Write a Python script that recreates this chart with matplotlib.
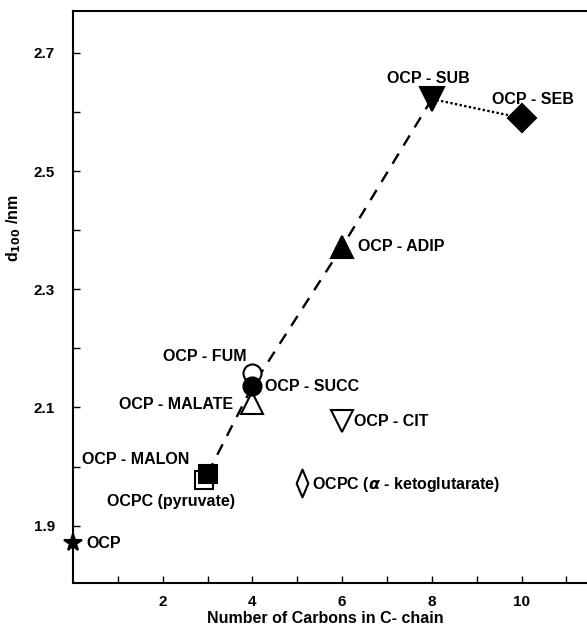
import numpy as np
import matplotlib
matplotlib.use("Agg")
import matplotlib.pyplot as plt
from matplotlib.path import Path

plt.rcParams['font.family'] = ['Liberation Sans', 'DejaVu Sans']
plt.rcParams['font.weight'] = 'bold'

# data
names = ['OCP', 'OCP - MALON', 'OCPC (pyruvate)', 'OCP - MALATE', 'OCP - SUCC', 'OCP - FUM',
         'OCP - ADIP', 'OCP - SUB', 'OCP - SEB', 'OCP - CIT', r'OCPC ($\alpha$ - ketoglutarate)']
carbons = [0, 3, 2.92, 4, 4, 4, 6, 8, 10, 6, 5.1]
d100 = [1.87, 1.988, 1.977, 2.107, 2.136, 2.158, 2.372, 2.622, 2.59, 2.078, 1.972]

dashed_idx = [1, 4, 6, 7]   # MALON -> SUCC -> ADIP -> SUB
dotted_idx = [7, 8]         # SUB -> SEB

thin_diamond = Path([(0, 1), (0.42, 0), (0, -1), (-0.42, 0), (0, 1)],
                    [Path.MOVETO, Path.LINETO, Path.LINETO, Path.LINETO, Path.CLOSEPOLY])

# marker style for each point: (marker, filled, size)
styles = [('*', True, 13), ('s', True, 13), ('s', False, 13), ('^', False, 16), ('o', True, 13),
          ('o', False, 13), ('^', True, 16), ('v', True, 17), ('D', True, 14), ('v', False, 16),
          (thin_diamond, False, 20)]

# label anchors (x, y, ha)
label_pos = [(0.3, 1.869, 'left'), (0.2, 2.012, 'left'), (0.75, 1.941, 'left'),
             (3.57, 2.105, 'right'), (4.27, 2.136, 'left'), (3.88, 2.186, 'right'),
             (6.35, 2.373, 'left'), (7.0, 2.656, 'left'), (9.34, 2.622, 'left'),
             (6.27, 2.077, 'left'), (5.32, 1.969, 'left')]

fig = plt.figure(figsize=(5.87, 6.28), dpi=100)
ax = fig.add_axes([73 / 587, 1 - 583 / 628, 1 - 73 / 587, (583 - 11) / 628])

ax.plot([carbons[i] for i in dashed_idx], [d100[i] for i in dashed_idx],
        ls=(0, (5, 4)), color='black', lw=1.7, zorder=1)
ax.plot([carbons[i] for i in dotted_idx], [d100[i] for i in dotted_idx],
        ls=(0, (1, 1)), color='black', lw=1.7, zorder=1)

for x, y, (m, filled, s) in zip(carbons, d100, styles):
    ax.plot(x, y, marker=m, ms=s, mec='black', mew=1.5,
            mfc='black' if filled else 'white', ls='none',
            zorder=4 if filled else 3, clip_on=False)

for name, (tx, ty, ha) in zip(names, label_pos):
    ax.text(tx, ty, name, ha=ha, va='center', fontsize=11.5, fontweight='bold')

ax.set_xlim(0, 11.46)
ax.set_ylim(1.803, 2.771)
ax.set_xticks([2, 4, 6, 8, 10])
ax.set_xticks([1, 3, 5, 7, 9, 11], minor=True)
ax.set_yticks([1.9, 2.1, 2.3, 2.5, 2.7])
ax.set_yticks([2.0, 2.2, 2.4, 2.6], minor=True)
ax.tick_params(which='both', direction='in', length=5, width=1, labelsize=11)
ax.tick_params(axis='x', pad=9)
ax.tick_params(axis='y', pad=13)
ax.spines['right'].set_visible(False)
for sp in ['left', 'top', 'bottom']:
    ax.spines[sp].set_linewidth(1.5)

ax.set_xlabel('Number of Carbons in C- chain', fontsize=11.5, fontweight='bold')
ax.xaxis.set_label_coords((325 - 73) / 514, -(611 - 583) / 572)
ax.set_ylabel(r'd$_{\mathbf{100}}$ /nm', fontsize=11.5, fontweight='bold')
ax.yaxis.set_label_coords(-(73 - 23) / 514, (583 - 228) / 572)

fig.savefig('out.png', dpi=100)
